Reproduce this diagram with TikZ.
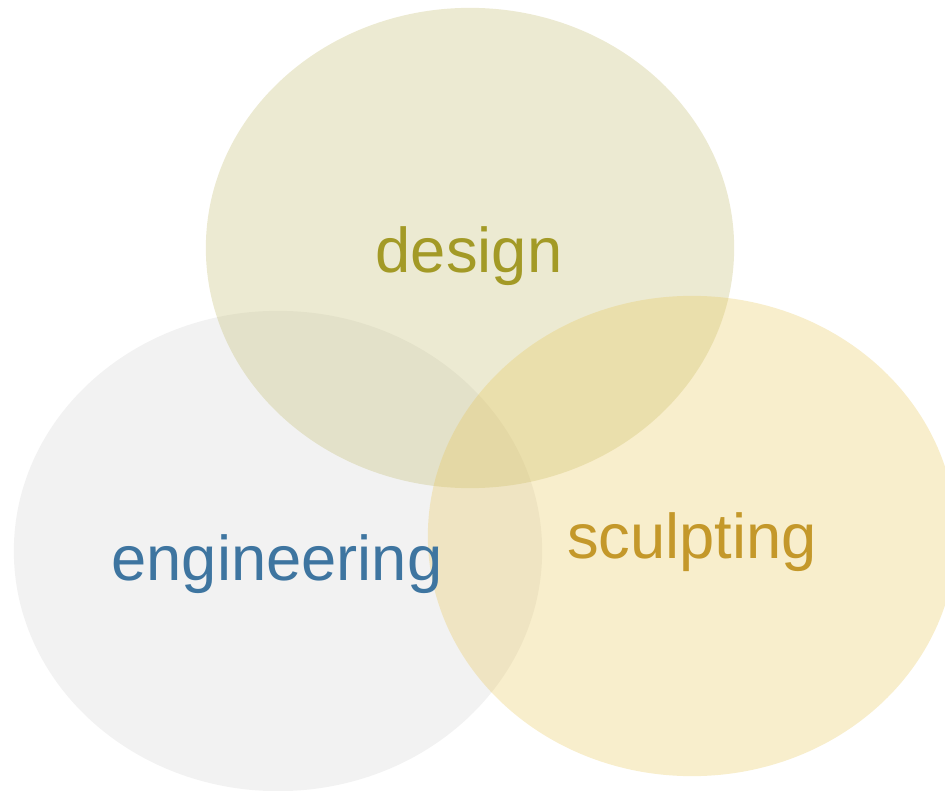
\documentclass[tikz,border=0pt]{standalone}
\usepackage{fontspec}
\setmainfont{Liberation Sans}
\usepackage{tikz, xcolor}
\usetikzlibrary{shapes}

\definecolor{designfill}{RGB}{192,185,105}
\definecolor{engfill}{RGB}{212,212,212}
\definecolor{sculptfill}{RGB}{232,198,85}
\definecolor{designtext}{RGB}{163,154,38}
\definecolor{engtext}{RGB}{62,117,160}
\definecolor{sculpttext}{RGB}{196,152,42}

\begin{document}
\begin{tikzpicture}[x=0.01cm, y=-0.01cm]
\tikzstyle{blob}=[ellipse, inner sep=0pt, minimum width=5.28cm, minimum height=4.80cm, fill opacity=0.3]
\tikzstyle{word}=[anchor=base, inner sep=0pt, font=\fontsize{18}{20}\selectfont]

\useasboundingbox (0,0) rectangle (945,791);

\node[blob, fill=engfill] (Eng) at (278,551) {};
\node[blob, fill=designfill] (Des) at (470,248) {};
\node[blob, fill=sculptfill] (Scu) at (692,536) {};

\node[word, text=designtext] (DesL) at (469,273) {design};
\node[word, text=engtext] (EngL) at (277,580) {engineering};
\node[word, text=sculpttext] (ScuL) at (692,558) {sculpting};
\end{tikzpicture}
\end{document}
